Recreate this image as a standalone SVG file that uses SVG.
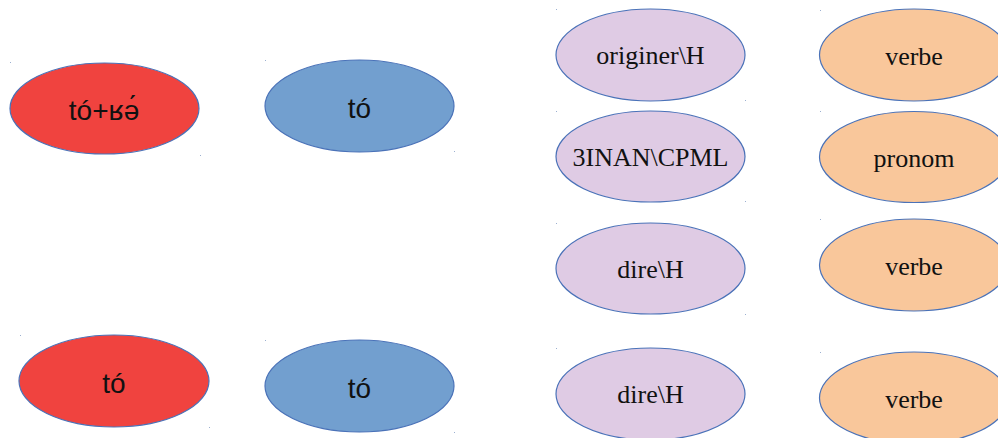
<svg xmlns="http://www.w3.org/2000/svg" width="998" height="438" viewBox="0 0 998 438">
  <style>
    ellipse { stroke: #4a72b8; stroke-width: 1.2; }
    .red { fill: #f0433f; }
    .blue { fill: #729fcf; }
    .lilac { fill: #dfcbe4; }
    .peach { fill: #f9c79b; }
    .sans { font-family: "Liberation Sans", Arial, sans-serif; font-size: 28px; fill: #111; text-anchor: middle; }
    .serif { font-family: "Liberation Serif", "Times New Roman", serif; font-size: 26px; fill: #111; text-anchor: middle; }
    .dot { fill: #5a7bb0; opacity: 0.6; }
  </style>
  <rect width="998" height="438" fill="#ffffff"/>

  <!-- tiny anchor specks at shape bounds -->
  <g id="specks">
    <rect class="dot" x="10" y="62" width="1" height="1"/>
    <rect class="dot" x="200" y="155" width="1" height="1"/>
    <rect class="dot" x="265" y="60" width="1" height="1"/>
    <rect class="dot" x="454" y="151" width="1" height="1"/>
    <rect class="dot" x="556" y="9" width="1" height="1"/>
    <rect class="dot" x="745" y="100" width="1" height="1"/>
    <rect class="dot" x="556" y="111" width="1" height="1"/>
    <rect class="dot" x="745" y="201" width="1" height="1"/>
    <rect class="dot" x="820" y="10" width="1" height="1"/>
    <rect class="dot" x="820" y="111" width="1" height="1"/>
    <rect class="dot" x="20" y="335" width="1" height="1"/>
    <rect class="dot" x="209" y="427" width="1" height="1"/>
    <rect class="dot" x="556" y="223" width="1" height="1"/>
    <rect class="dot" x="745" y="314" width="1" height="1"/>
    <rect class="dot" x="556" y="348" width="1" height="1"/>
    <rect class="dot" x="820" y="219" width="1" height="1"/>
    <rect class="dot" x="820" y="352" width="1" height="1"/>
    <rect class="dot" x="265" y="340" width="1" height="1"/>
    <rect class="dot" x="454" y="432" width="1" height="1"/>
  </g>

  <g id="connectors"></g>

  <!-- left column: source forms -->
  <g id="n-red-1">
    <ellipse class="red" cx="104.5" cy="108.5" rx="94.5" ry="45.5"/>
    <text class="sans" x="104" y="120">tó+ʁə́</text>
  </g>
  <g id="n-red-2">
    <ellipse class="red" cx="114" cy="381" rx="95" ry="46"/>
    <text class="sans" x="114" y="393">tó</text>
  </g>

  <!-- second column -->
  <g id="n-blue-1">
    <ellipse class="blue" cx="359.5" cy="106" rx="94.5" ry="46"/>
    <text class="sans" x="359.5" y="118">tó</text>
  </g>
  <g id="n-blue-2">
    <ellipse class="blue" cx="359.5" cy="386" rx="94.5" ry="46"/>
    <text class="sans" x="359.5" y="398">tó</text>
  </g>

  <!-- glosses -->
  <g id="n-gloss-1">
    <ellipse class="lilac" cx="650.5" cy="55" rx="94.5" ry="46"/>
    <text class="serif" x="650.5" y="64">originer\H</text>
  </g>
  <g id="n-gloss-2">
    <ellipse class="lilac" cx="650.5" cy="156.5" rx="94.5" ry="45.5"/>
    <text class="serif" x="650.5" y="166">3INAN\CPML</text>
  </g>
  <g id="n-gloss-3">
    <ellipse class="lilac" cx="650.5" cy="268.5" rx="94.5" ry="45.5"/>
    <text class="serif" x="650.5" y="278">dire\H</text>
  </g>
  <g id="n-gloss-4">
    <ellipse class="lilac" cx="650.5" cy="394" rx="94.5" ry="46"/>
    <text class="serif" x="650.5" y="403">dire\H</text>
  </g>

  <!-- parts of speech -->
  <g id="n-pos-1">
    <ellipse class="peach" cx="914" cy="55" rx="94.5" ry="46"/>
    <text class="serif" x="914" y="65">verbe</text>
  </g>
  <g id="n-pos-2">
    <ellipse class="peach" cx="914" cy="157" rx="94.5" ry="45.5"/>
    <text class="serif" x="914" y="167">pronom</text>
  </g>
  <g id="n-pos-3">
    <ellipse class="peach" cx="914" cy="265" rx="94.5" ry="46"/>
    <text class="serif" x="914" y="275">verbe</text>
  </g>
  <g id="n-pos-4">
    <ellipse class="peach" cx="914" cy="398" rx="94.5" ry="46"/>
    <text class="serif" x="914" y="408">verbe</text>
  </g>
</svg>
